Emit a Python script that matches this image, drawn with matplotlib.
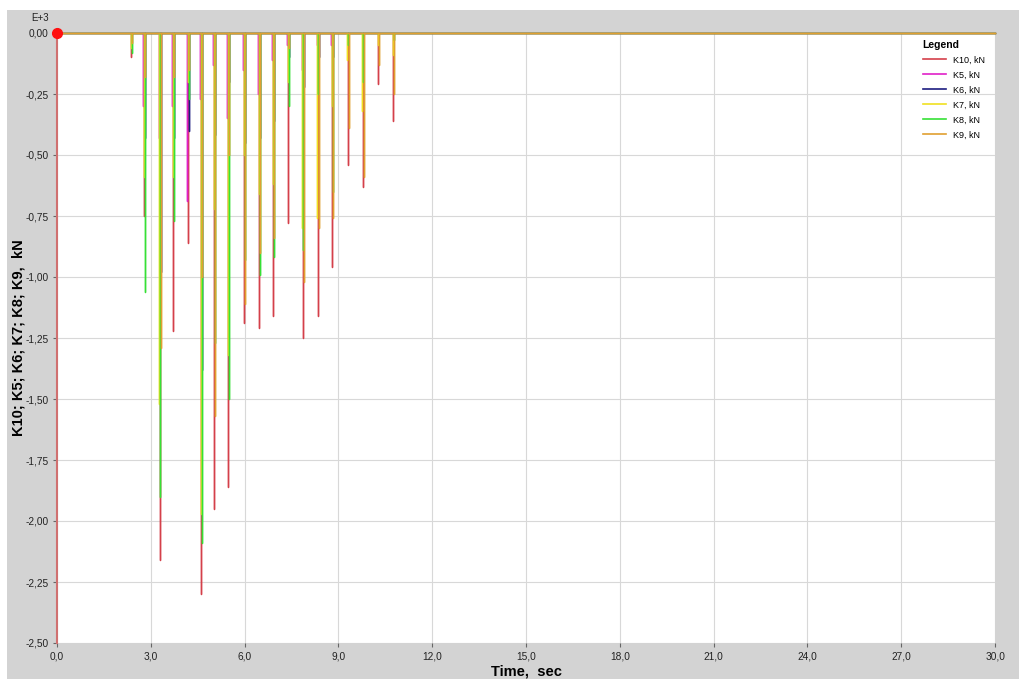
import numpy as np
import matplotlib
matplotlib.use("Agg")
import matplotlib.pyplot as plt
from matplotlib.patches import Rectangle
from matplotlib.ticker import FuncFormatter, MultipleLocator

plt.rcParams['font.family'] = ['Liberation Sans', 'DejaVu Sans']

# Peak times of each load pulse (s)
spike_times = [2.37, 2.79, 3.29, 3.72, 4.20, 4.61, 5.03, 5.48, 5.99, 6.47,
               6.92, 7.40, 7.86, 8.34, 8.80, 9.30, 9.78, 10.27, 10.75]

# Peak loads per sensor (kN)
k10 = [-100, -750, -2160, -1220, -860, -2300, -1950, -1860, -1190, -1210,
       -1160, -780, -1250, -1160, -960, -540, -630, -210, -360]
k5 = [0, -300, -430, -300, -690, -270, -130, -350, -150, -250,
      -110, -50, -150, -50, -50, 0, 0, 0, 0]
k6 = [0, -430, -980, -430, -400, -1380, -420, -200, -450, -430,
      -360, -100, -220, -100, -100, 0, 0, 0, 0]
k7 = [-60, -590, -1520, -590, -200, -1970, -720, -1320, -500, -660,
      -620, -200, -800, -760, -300, -110, -320, -50, -90]
k8 = [-80, -1060, -1900, -770, -270, -2090, -1270, -1500, -930, -990,
      -920, -300, -890, -250, -650, -50, -200, 0, -30]
k9 = [-40, -180, -1290, -180, -150, -1000, -1570, -500, -1110, -900,
      -840, -60, -1020, -800, -760, -390, -590, -130, -250]

series_names = ['K10, kN', 'K5, kN', 'K6, kN', 'K7, kN', 'K8, kN', 'K9, kN']
series_values = [k10, k5, k6, k7, k8, k9]
series_colors = ['#d4404a', '#e020c8', '#1c1c80', '#f0e020', '#36e036', '#e0a030']
# small sensor lag relative to the common pulse time (s)
series_lag = [0.0, -0.03, 0.03, -0.015, 0.015, 0.035]

T_END = 30.0


def pulse_curve(times, peaks, lag):
    t = [0.0]
    y = [0.0]
    for tc, p in zip(times, peaks):
        tc = tc + lag
        t += [tc, tc, tc]
        y += [0.0, p, 0.0]
    t.append(T_END)
    y.append(0.0)
    return np.array(t), np.array(y)


W, H = 1019, 679
fig = plt.figure(figsize=(W / 100, H / 100), dpi=100, facecolor='#d3d3d3')
# white margins at left and top of the panel
fig.patches.append(Rectangle((0, 0), 7 / W, 1, transform=fig.transFigure,
                             facecolor='white', edgecolor='none', zorder=-1))
fig.patches.append(Rectangle((0, 1 - 10 / H), 1, 10 / H, transform=fig.transFigure,
                             facecolor='white', edgecolor='none', zorder=-1))

left, right, top, bottom = 57, 995, 33, 643
ax = fig.add_axes([left / W, (H - bottom) / H, (right - left) / W, (bottom - top) / H])
ax.set_facecolor('white')

for name, vals, col, lag in zip(series_names, series_values, series_colors, series_lag):
    t, y = pulse_curve(spike_times, vals, lag)
    ax.plot(t, y, color=col, lw=1.0, label=name, clip_on=False, snap=True)

ax.set_xlim(0, 30)
ax.set_ylim(-2500, 0)
ax.xaxis.set_major_locator(MultipleLocator(3))
ax.yaxis.set_major_locator(MultipleLocator(250))
ax.xaxis.set_major_formatter(FuncFormatter(lambda v, p: f"{v:.1f}".replace('.', ',')))
ax.yaxis.set_major_formatter(FuncFormatter(lambda v, p: f"{v / 1000:.2f}".replace('.', ',')))
ax.grid(True, color='#d8d8d8', lw=0.8)
ax.set_axisbelow(True)
ax.tick_params(axis='both', labelsize=7.3, colors='#222222', length=3, width=0.8,
               direction='out', pad=3)
ax.tick_params(axis='both', color='#666666')

for s in ['top', 'right', 'bottom']:
    ax.spines[s].set_visible(False)
ax.spines['left'].set_color('#d07070')
ax.spines['left'].set_linewidth(1.5)
ax.spines['left'].set_zorder(5)

ax.plot([0], [0], 'o', color='#ff1010', markersize=7, clip_on=False, zorder=10)

fig.text(31 / W, 1 - 18 / H, 'E+3', fontsize=7, ha='left', va='center', color='#222222')

ax.set_xlabel('Time,  sec', fontsize=10.5, fontweight='bold', labelpad=2)
ax.set_ylabel('K10; K5; K6; K7; K8; K9,  kN', fontsize=10.5, fontweight='bold')
ax.yaxis.set_label_coords((26 - left) / (right - left), 0.5)

leg = ax.legend(loc='upper left', bbox_to_anchor=((919 - left) / (right - left), 1 - 3 / (bottom - top)),
                frameon=False, fontsize=6.5, title='Legend', alignment='left',
                handlelength=2.6, handletextpad=0.75, labelspacing=0.66, borderaxespad=0)
leg.get_title().set_fontweight('bold')
leg.get_title().set_fontsize(7.5)
for line in leg.get_lines():
    line.set_linewidth(1.2)

fig.savefig('out.png', dpi=100, facecolor=fig.get_facecolor())
